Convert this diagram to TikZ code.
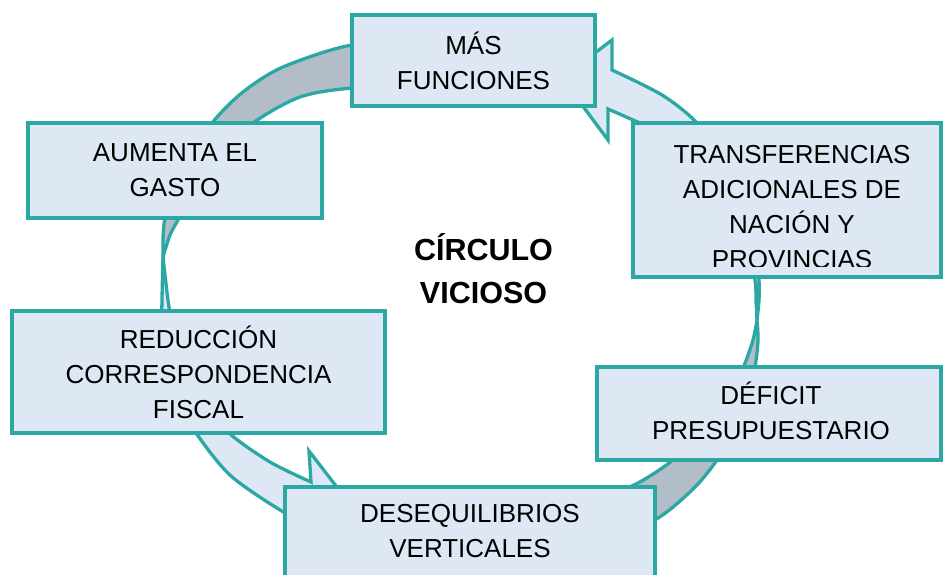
\documentclass[tikz,border=0pt]{standalone}
\usepackage{fontspec}
\setmainfont{Liberation Sans}
\definecolor{verdeazul}{RGB}{44,168,164}
\definecolor{celeste}{RGB}{221,232,244}
\definecolor{grisazul}{RGB}{178,189,200}
\newcommand\cajafont{\fontsize{26}{35}\selectfont}
\tikzset{
  caja/.style={rectangle,draw=verdeazul,fill=celeste,line width=4pt,inner sep=0pt,align=center,font=\cajafont},
  texto/.style={align=center,font=\cajafont,inner sep=0pt},
  cinta/.style={draw=verdeazul,line width=3.3pt,line join=miter},
  frente/.style={cinta,fill=celeste},
  dorso/.style={cinta,fill=grisazul}
}
\begin{document}
\begin{tikzpicture}[x=1pt,y=-1pt]
\clip (0,0) rectangle (943,574);
\fill[white] (0,0) rectangle (943,574);

\filldraw[dorso] plot[smooth] coordinates {(425,44) (352,45) (283,67) (243,92) (212,123) (183,167) (165,218) (163,257)}
  -- plot[smooth] coordinates {(163,257) (170,235) (179,218) (196,185) (214,159) (253,123) (300,97) (352,88) (425,86)} -- cycle;
\filldraw[frente] plot[smooth] coordinates {(163,257) (162,300) (162,330) (168,370) (178,400) (196,433) (231,476) (285,513) (311,524)}
  -- (311,554) -- (360,517) -- (309,451) -- (311,482)
  -- plot[smooth] coordinates {(311,482) (270,462) (229,433) (202,400) (186,370) (173,330) (168,300) (165,275) (163,257)} -- cycle;
\filldraw[dorso] plot[smooth] coordinates {(600,545) (658,518) (695,487) (717,460) (735,430) (747,400) (755,367) (758,340) (757,320)}
  -- plot[smooth] coordinates {(757,320) (753,340) (743,368) (726,400) (704,430) (673,460) (638,483) (598,500)} -- cycle;
\filldraw[frente] plot[smooth] coordinates {(757,320) (759,300) (759,280) (755,220) (733,170) (697,123) (662,95) (612,70)}
  -- (612,40) -- (562,78) -- (608,140) -- (608,109)
  -- plot[smooth] coordinates {(608,109) (633,120) (654,130) (694,160) (726,200) (746,240) (755,280) (756,300) (757,320)} -- cycle;

\node[caja,minimum width=243pt,minimum height=91pt] (mas) at (473.5,60.5) {MÁS\\FUNCIONES};
\node[caja,minimum width=308pt,minimum height=154pt] (transf) at (787,200) {};
\begin{scope}
\clip (633,125) rectangle (941,266);
\node[texto] (transftxt) at (792,207.5) {TRANSFERENCIAS\\ADICIONALES DE\\NACIÓN Y\\PROVINCIAS};
\end{scope}
\node[caja,minimum width=294pt,minimum height=95pt] (gasto) at (175,170.5) {AUMENTA EL\\GASTO};
\node[caja,minimum width=373pt,minimum height=122pt] (reduc) at (198.5,372) {REDUCCIÓN\\CORRESPONDENCIA\\FISCAL};
\node[caja,minimum width=344pt,minimum height=93pt] (deficit) at (769,413.5) {};
\node[texto] (deficittxt) at (771,410.5) {DÉFICIT\\PRESUPUESTARIO};
\node[caja,minimum width=370pt,minimum height=113pt] (deseq) at (470,543.5) {};
\node[texto] (deseqtxt) at (470,531) {DESEQUILIBRIOS\\VERTICALES};

\node[align=center,font=\bfseries\fontsize{30.5}{43}\selectfont] (ciclo) at (483.5,268.5) {CÍRCULO\\VICIOSO};
\end{tikzpicture}
\end{document}
